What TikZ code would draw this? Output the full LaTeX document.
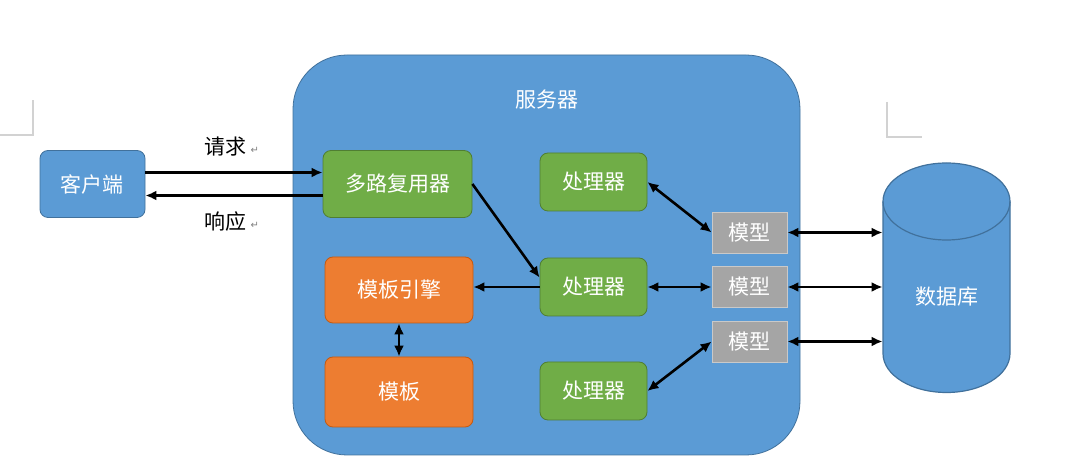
\documentclass[tikz,border=0pt]{standalone}
\usepackage{fontspec}
\setmainfont{Noto Sans CJK SC}
\newfontfamily\symfont{DejaVu Sans}
\usetikzlibrary{arrows.meta}
\definecolor{srvblue}{HTML}{5B9BD5}
\definecolor{srvline}{HTML}{41719C}
\definecolor{hgreen}{HTML}{70AD47}
\definecolor{hline}{HTML}{507E32}
\definecolor{torange}{HTML}{ED7D31}
\definecolor{tline}{HTML}{C55A11}
\definecolor{mgray}{HTML}{A5A5A5}
\definecolor{mline}{HTML}{C9C9C9}

\begin{document}
\begin{tikzpicture}[x=0.5pt,y=-0.5pt,
    font=\fontsize{10.5pt}{12pt}\selectfont,
    bluebox/.style={draw=srvline, fill=srvblue, text=white, rounded corners=4pt},
    handler/.style={draw=hline, fill=hgreen, text=white, rounded corners=4pt,
      minimum width=53.5pt, minimum height=29pt},
    tmplbox/.style={draw=tline, fill=torange, text=white, rounded corners=4pt,
      minimum width=74pt},
    modelbox/.style={draw=mline, fill=mgray, text=white,
      minimum width=37.5pt, minimum height=20.5pt},
    link/.style={line width=1.3pt, -{Latex[length=5.5pt,width=5pt]}},
    both/.style={line width=1.3pt, {Latex[length=5.5pt,width=5pt]}-{Latex[length=5.5pt,width=5pt]}},
    corner/.style={gray!35, line width=0.6pt},
    retmark/.style={text=gray, inner sep=0pt, font=\symfont\fontsize{5pt}{6pt}\selectfont}]
  \useasboundingbox (0,0) rectangle (1089,475);
  % page corners
  \draw[corner] (0,135) -- (33,135) -- (33,100);
  \draw[corner] (887,102) -- (887,137) -- (922,137);
  % server
  \node[bluebox, rounded corners=27pt, minimum width=253.5pt, minimum height=200pt]
    (server) at (546.5,255) {};
  \node[text=white] (srvlabel) at ([yshift=-22.5pt]server.north) {服务器};
  % client
  \node[bluebox, minimum width=52.5pt, minimum height=33.5pt] (client) at (92.5,184) {客户端};
  \node[handler, draw=hline, minimum width=74.5pt, minimum height=33.5pt] (mux) at (397.5,184) {多路复用器};
  \draw[link] ([yshift=5.75pt]client.east) -- ([yshift=5.75pt]mux.west)
    node[pos=0.45, above=4pt] (req) {请求};
  \draw[link] ([yshift=-5.75pt]mux.west) -- ([yshift=-5.75pt]client.east)
    node[pos=0.55, below=4pt] (resp) {响应};
  \node[retmark, anchor=west] at ([xshift=-2pt,yshift=-2pt]req.east) {↵};
  \node[retmark, anchor=west] at ([xshift=-2pt,yshift=-2pt]resp.east) {↵};
  % handlers
  \node[handler] (h1) at (593.5,182) {处理器};
  \node[handler] (h2) at (593.5,287) {处理器};
  \node[handler] (h3) at (593.5,391) {处理器};
  % templates
  \node[tmplbox, minimum height=33pt] (engine) at (399,290) {模板引擎};
  \node[tmplbox, minimum height=35pt] (tmpl) at (399,392) {模板};
  % database
  \draw[srvline, fill=srvblue, line width=0.6pt]
    (883,201.5) -- (883,353.5) arc[start angle=180, end angle=0, x radius=63.5, y radius=39]
    -- (1010,201.5) arc[start angle=0, end angle=-180, x radius=63.5, y radius=38.5] -- cycle;
  \draw[srvline, line width=0.6pt] (883,201.5)
    arc[start angle=180, end angle=0, x radius=63.5, y radius=38.5];
  \node[text=white, minimum width=63.5pt, minimum height=100pt] (db) at (946.5,297) {数据库};
  % models
  \foreach \mm/\yy in {1/232.5,2/287,3/341.5}
   {
    \node[modelbox] (m\mm) at (749.5,\yy) {模型};
    \draw[both] (m\mm.east) -- (db.west |- m\mm.east);
   }
  \draw[link] (mux.east) -- ([yshift=-10pt]h2.north west);
  \draw[link] (h2.west) -- (h2.west -| engine.east);
  \draw[both] (engine.south) -- (tmpl.north);
  \draw[both] (h1.east) -- (m1.west);
  \draw[both] (h2.east) -- (m2.west);
  \draw[both] (h3.east) -- (m3.west);
\end{tikzpicture}
\end{document}
